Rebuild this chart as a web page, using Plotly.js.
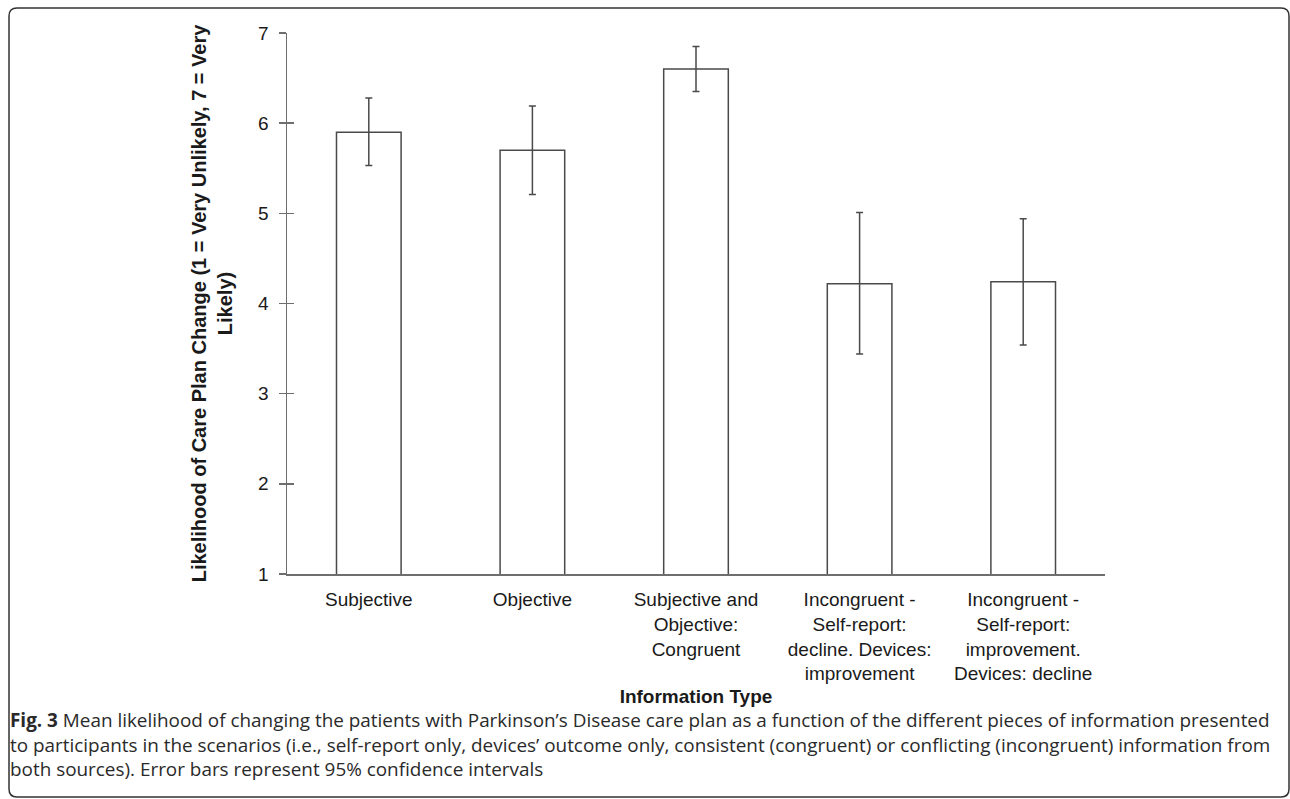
<!DOCTYPE html>
<html>
<head>
<meta charset="utf-8">
<script src="https://cdn.plot.ly/plotly-3.0.1.min.js"></script>
<style>
  html, body { margin: 0; padding: 0; background: #fff; }
  #chart { width: 1290px; height: 799px; }
</style>
</head>
<body>
<div id="chart"></div>
<script>
// ---- data ----
var categories = [
  "Subjective",
  "Objective",
  "Subjective and<br>Objective:<br>Congruent",
  "Incongruent -<br>Self-report:<br>decline. Devices:<br>improvement",
  "Incongruent -<br>Self-report:<br>improvement.<br>Devices: decline"
];
var meanLikelihood = [5.90, 5.70, 6.60, 4.22, 4.24];
var ciPlus = [0.38, 0.49, 0.25, 0.79, 0.70];
var ciMinus = [0.37, 0.49, 0.25, 0.78, 0.70];
var yTickVals = [1, 2, 3, 4, 5, 6, 7];
var yTitle = "Likelihood of Care Plan Change (1 = Very Unlikely, 7 = Very<br>Likely)";
var xTitle = "Information Type";
var captionLines = [
  "<b>Fig. 3</b> Mean likelihood of changing the patients with Parkinson’s Disease care plan as a function of the different pieces of information presented",
  "to participants in the scenarios (i.e., self-report only, devices’ outcome only, consistent (congruent) or conflicting (incongruent) information from",
  "both sources). Error bars represent 95% confidence intervals"
];

// ---- geometry helpers (plot area in px) ----
var W = 1290, H = 799;
var mL = 287, mR = W - 1105, mT = 33, mB = H - 574;
var pw = W - mL - mR, ph = H - mT - mB;
function px2x(px) { return (px - mL) / pw; }
function px2y(py) { return (H - mB - py) / ph; }

var axisFont = { family: "Liberation Sans, Arial, sans-serif", size: 19, color: "#1a1a1a" };

var traces = [
  {
    type: "bar",
    x: categories,
    y: meanLikelihood,
    marker: { color: "#ffffff", line: { color: "#4a4a4a", width: 1.5 } },
    error_y: {
      type: "data", symmetric: false,
      array: ciPlus, arrayminus: ciMinus,
      color: "#4a4a4a", thickness: 1.5, width: 3.5
    },
    hoverinfo: "x+y",
    showlegend: false
  },
  {
    type: "scatter",
    x: categories,
    y: meanLikelihood,
    yaxis: "y2",
    mode: "markers",
    marker: { opacity: 0 },
    hoverinfo: "skip",
    showlegend: false
  }
];

// rounded frame path (in paper coords)
var fx0 = 9, fy0 = 8, fx1 = 1289, fy1 = 797, r = 8;
function P(x, y) { return px2x(x).toFixed(5) + "," + px2y(y).toFixed(5); }
var framePath = "M" + P(fx0 + r, fy0) +
  " L" + P(fx1 - r, fy0) + " Q" + P(fx1, fy0) + " " + P(fx1, fy0 + r) +
  " L" + P(fx1, fy1 - r) + " Q" + P(fx1, fy1) + " " + P(fx1 - r, fy1) +
  " L" + P(fx0 + r, fy1) + " Q" + P(fx0, fy1) + " " + P(fx0, fy1 - r) +
  " L" + P(fx0, fy0 + r) + " Q" + P(fx0, fy0) + " " + P(fx0 + r, fy0) + " Z";

var captionY = [720, 745, 769];
var annotations = captionLines.map(function (t, i) {
  return {
    xref: "paper", yref: "paper",
    x: px2x(8), y: px2y(captionY[i]),
    xanchor: "left", yanchor: "middle",
    text: t, showarrow: false, align: "left",
    font: { family: "Open Sans, Noto Sans, sans-serif", size: 18.9, color: "#2a2a2a" }
  };
});

var layout = {
  width: W, height: H,
  margin: { l: mL, r: mR, t: mT, b: mB, pad: 0 },
  paper_bgcolor: "#ffffff",
  plot_bgcolor: "#ffffff",
  bargap: 0.605,
  showlegend: false,
  xaxis: {
    type: "category",
    showline: true, linecolor: "#6e6e6e", linewidth: 1.5,
    ticks: "", showgrid: false, zeroline: false,
    tickfont: axisFont,
    ticklabelstandoff: 8,
    title: { text: "<b>" + xTitle + "</b>", font: { family: "Liberation Sans, Arial, sans-serif", size: 19, color: "#1a1a1a" }, standoff: 6 }
  },
  yaxis: {
    range: [1, 7],
    tickvals: yTickVals,
    showline: true, linecolor: "#6e6e6e", linewidth: 1.5,
    ticks: "outside", ticklen: 7, tickwidth: 1.5, tickcolor: "#6e6e6e",
    showgrid: false, zeroline: false,
    tickfont: axisFont,
    ticklabelstandoff: 6,
    title: { text: "<b>" + yTitle + "</b>", font: { family: "Liberation Sans, Arial, sans-serif", size: 20, color: "#1a1a1a" }, standoff: 20 }
  },
  yaxis2: {
    overlaying: "y", side: "left",
    range: [1, 7],
    tickvals: yTickVals,
    showline: false, showgrid: false, zeroline: false,
    ticks: "inside", ticklen: 7, tickwidth: 1.5, tickcolor: "#6e6e6e",
    showticklabels: false
  },
  shapes: [
    {
      type: "path", xref: "paper", yref: "paper",
      path: framePath,
      line: { color: "#333333", width: 1.5 },
      fillcolor: "rgba(0,0,0,0)",
      layer: "below"
    }
  ],
  annotations: annotations
};

Plotly.newPlot("chart", traces, layout, { displayModeBar: false, staticPlot: true });
</script>
</body>
</html>
